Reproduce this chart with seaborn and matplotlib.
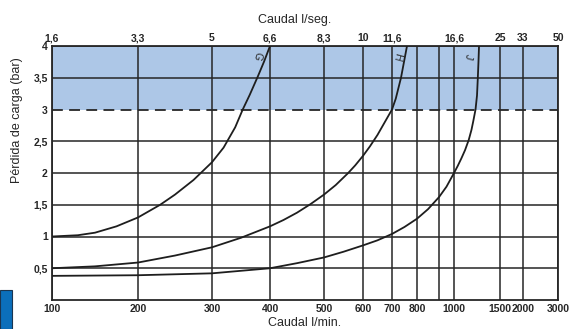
#!/usr/bin/env python3
"""
Pérdida de carga vs caudal - curvas G, H, J (nomograma)
"""

import numpy as np
import pandas as pd
import matplotlib
matplotlib.use('Agg')
import matplotlib.pyplot as plt
import seaborn as sns
from matplotlib.patches import Rectangle

# Curves: caudal (l/min) -> pérdida de carga (bar)
flow_g = [100, 130, 150, 175, 200, 230, 250, 275, 300, 320, 340, 353, 365, 379, 390, 400]
loss_g = [1.0, 1.02, 1.06, 1.16, 1.30, 1.50, 1.66, 1.89, 2.17, 2.40, 2.72, 3.0, 3.23, 3.52, 3.76, 4.0]

flow_h = [100, 150, 200, 250, 300, 350, 400, 425, 450, 475, 500, 530, 562, 580, 600,
          624, 650, 675, 700, 715, 736, 748, 760]
loss_h = [0.50, 0.53, 0.59, 0.70, 0.83, 0.98, 1.16, 1.26, 1.375, 1.51, 1.66, 1.81, 2.0, 2.12, 2.27,
          2.42, 2.60, 2.80, 3.0, 3.17, 3.5, 3.75, 4.0]

flow_j = [100, 200, 300, 400, 450, 500, 550, 600, 650, 700, 750, 800, 850, 900, 950, 1000,
          1040, 1080, 1120, 1160, 1190, 1210, 1234, 1250, 1259, 1266, 1272]
loss_j = [0.38, 0.39, 0.42, 0.50, 0.58, 0.67, 0.76, 0.86, 0.94, 1.04, 1.15, 1.28, 1.43, 1.62, 1.785, 2.0,
          2.11, 2.23, 2.36, 2.52, 2.68, 2.82, 3.0, 3.22, 3.5, 3.75, 4.0]

curve_names = ['G', 'H', 'J']
label_flow = [379, 722, 1150]
label_loss = [3.84, 3.84, 3.84]

# bottom axis (l/min) and matching top axis (l/seg)
x_ticks = [100, 200, 300, 400, 500, 600, 700, 800, 900, 1000, 1500, 2000, 3000]
x_labels = ['100', '200', '300', '400', '500', '600', '700', '800', '', '1000', '1500', '2000', '3000']
top_ticks = [100, 200, 300, 400, 500, 600, 700, 1000, 1500, 2000, 3000]
top_labels = ['1,6', '3,3', '5', '6,6', '8,3', '10', '11,6', '16,6', '25', '33', '50']
y_ticks = [0.5, 1, 1.5, 2, 2.5, 3, 3.5, 4]
y_labels = ['0,5', '1', '1,5', '2', '2,5', '3', '3,5', '4']

# where each x grid line sits on the (non-uniform) nomogram paper
paper_pos = [0, 86, 160, 218, 272, 311, 340, 365, 387, 402, 448, 471, 506]


def _interp(v, xs, ys):
    v = np.asarray(v, dtype=float)
    out = np.interp(v, xs, ys)
    lo = v < xs[0]
    hi = v > xs[-1]
    out[lo] = ys[0] + (v[lo] - xs[0]) * (ys[1] - ys[0]) / (xs[1] - xs[0])
    out[hi] = ys[-1] + (v[hi] - xs[-1]) * (ys[-1] - ys[-2]) / (xs[-1] - xs[-2])
    return out


def forward(v):
    return _interp(v, x_ticks, paper_pos)


def inverse(v):
    return _interp(v, paper_pos, x_ticks)


df = pd.concat([
    pd.DataFrame({'caudal': flow_g, 'perdida': loss_g, 'curva': 'G'}),
    pd.DataFrame({'caudal': flow_h, 'perdida': loss_h, 'curva': 'H'}),
    pd.DataFrame({'caudal': flow_j, 'perdida': loss_j, 'curva': 'J'}),
])

sns.set_style("white")
plt.rcParams['font.family'] = ['Liberation Sans', 'DejaVu Sans']

fig = plt.figure(figsize=(5.73, 3.29), dpi=100)
ax = fig.add_axes([52 / 573, 29 / 329, 506 / 573, 254 / 329])

grid_col = '#262626'
ax.axhspan(3, 4, color='#adc7e7', zorder=0, lw=0)

sns.lineplot(data=df, x='caudal', y='perdida', hue='curva', units='curva',
             estimator=None, sort=False, palette=['#1e1e1e'] * 3,
             linewidth=1.3, legend=False, ax=ax, zorder=4)

ax.set_xscale('function', functions=(forward, inverse))
ax.set_xlim(100, 3000)
ax.set_ylim(0, 4)

# grid
for xv in x_ticks:
    ax.axvline(xv, color=grid_col, lw=1.1, zorder=2)
for yv in y_ticks:
    if yv == 3:
        ax.axhline(yv, color=grid_col, lw=1.3, ls=(0, (6, 3.5)), zorder=2)
    else:
        ax.axhline(yv, color=grid_col, lw=1.1, zorder=2)

ax.set_xticks(x_ticks)
ax.set_xticklabels(x_labels, fontsize=7.5, fontweight='bold')
ax.set_yticks(y_ticks)
ax.set_yticklabels(y_labels, fontsize=7.5, fontweight='bold')
ax.tick_params(length=0, pad=3)

for s in ax.spines.values():
    s.set_color(grid_col)
    s.set_linewidth(1.3)

ax.set_xlabel('Caudal l/min.', fontsize=9, labelpad=2)
ax.set_ylabel('Pérdida de carga (bar)', fontsize=9)
ax.yaxis.set_label_coords(-0.057, 0.71)

for name, fx, fy in zip(curve_names, label_flow, label_loss):
    ax.text(fx, fy, name, fontsize=7.5, rotation=-105, ha='center', va='center', zorder=5)

# top axis in l/seg
ax2 = ax.twiny()
ax2.set_xscale('function', functions=(forward, inverse))
ax2.set_xlim(100, 3000)
ax2.set_xticks(top_ticks)
ax2.set_xticklabels(top_labels, fontsize=7.5, fontweight='bold')
ax2.tick_params(length=0, pad=2)
ax2.set_xlabel('Caudal l/seg.', fontsize=9)
ax2.xaxis.set_label_coords(0.48, 1.09)
for s in ax2.spines.values():
    s.set_visible(False)

# small blue page marker bottom-left
fig.add_artist(Rectangle((0, 0), 12 / 573, 39 / 329, transform=fig.transFigure,
                         facecolor='#0b6fbb', edgecolor='#1a3550', lw=0.8))

plt.savefig('out.png', dpi=100)
